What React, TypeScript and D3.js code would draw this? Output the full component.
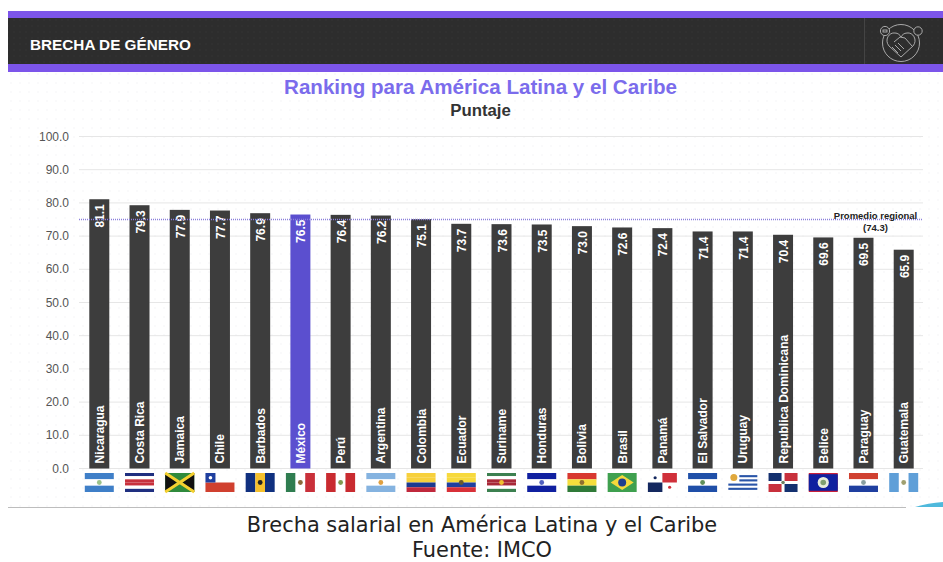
import React from "react";
import * as d3 from "d3";

const countries = ["Nicaragua", "Costa Rica", "Jamaica", "Chile", "Barbados", "México", "Perú", "Argentina", "Colombia", "Ecuador", "Suriname", "Honduras", "Bolivia", "Brasil", "Panamá", "El Salvador", "Uruguay", "Republica Dominicana", "Belice", "Paraguay", "Guatemala"];
const scores = [81.1, 79.3, 77.9, 77.7, 76.9, 76.5, 76.4, 76.2, 75.1, 73.7, 73.6, 73.5, 73.0, 72.6, 72.4, 71.4, 71.4, 70.4, 69.6, 69.5, 65.9];
const yTicks = [0, 10, 20, 30, 40, 50, 60, 70, 80, 90, 100];
const highlighted = "México";
const regionalLevel = 75;
const regionalLabel = ["Promedio regional", "(74.3)"];

const width = 943;
const height = 562;
const purple = "#7c55ea";

// flat stripes for each flag, [direction, colours, emblem colour]
const flagStripes: Record<string, [string, string[], string?]> = {
  Nicaragua: ["h", ["#3f7fc8", "#ffffff", "#3f7fc8"], "#9cc28a"],
  "Costa Rica": ["h", ["#1f2f80", "#ffffff", "#c8303c", "#c8303c", "#ffffff", "#1f2f80"]],
  Barbados: ["v", ["#10307f", "#f5c02c", "#10307f"], "#222222"],
  México: ["v", ["#2f7d50", "#ffffff", "#c9303a"], "#8a6a3a"],
  Perú: ["v", ["#c92b30", "#ffffff", "#c92b30"], "#7f9a50"],
  Argentina: ["h", ["#85b3e0", "#ffffff", "#85b3e0"], "#e0a040"],
  Colombia: ["h", ["#f7d03c", "#f7d03c", "#1c3a90", "#c0283c"]],
  Ecuador: ["h", ["#f7d93c", "#f7d93c", "#2040a0", "#d83038"], "#6a5a30"],
  Suriname: ["h", ["#3c8050", "#ffffff", "#a82838", "#a82838", "#ffffff", "#3c8050"], "#f0c030"],
  Honduras: ["h", ["#1020a0", "#ffffff", "#1020a0"], "#5060c0"],
  Bolivia: ["h", ["#d83830", "#f5de3c", "#2f7a38"], "#907030"],
  "El Salvador": ["h", ["#1f4fa8", "#ffffff", "#1f4fa8"], "#60905a"],
  Paraguay: ["h", ["#d04030", "#ffffff", "#1f3fa0"], "#8aa0a0"],
  Guatemala: ["v", ["#5f9fd8", "#ffffff", "#5f9fd8"], "#a0a070"],
};

const Flag = ({ name }: { name: string }) => {
  const w = 29;
  const h = 19;
  const spec = flagStripes[name];
  if (spec) {
    const [dir, colours, emblem] = spec;
    const band = d3.scaleBand<number>().domain(d3.range(colours.length)).range([0, dir === "h" ? h : w]);
    return (
      <g>
        {colours.map((c, i) =>
          dir === "h" ? (
            <rect key={i} y={band(i)} width={w} height={band.bandwidth()} fill={c} />
          ) : (
            <rect key={i} x={band(i)} width={band.bandwidth()} height={h} fill={c} />
          )
        )}
        {emblem && <circle cx={w / 2} cy={h / 2} r={2.4} fill={emblem} />}
      </g>
    );
  }
  if (name === "Jamaica") {
    return (
      <g>
        <rect width={w} height={h} fill="#2f8a3c" />
        <path d={`M0 0L${w / 2 - 3} ${h / 2}L0 ${h}Z M${w} 0L${w / 2 + 3} ${h / 2}L${w} ${h}Z`} fill="#111" />
        <path d={`M0 0L${w} ${h}M${w} 0L0 ${h}`} stroke="#f5d030" strokeWidth={3} />
      </g>
    );
  }
  if (name === "Chile") {
    return (
      <g>
        <rect width={w} height={h / 2} fill="#fff" />
        <rect y={h / 2} width={w} height={h / 2} fill="#d0402f" />
        <rect width={10} height={h / 2} fill="#1f3f9f" />
        <circle cx={5} cy={h / 4} r={1.8} fill="#fff" />
      </g>
    );
  }
  if (name === "Brasil") {
    return (
      <g>
        <rect width={w} height={h} fill="#3fa04f" />
        <path d={`M${w / 2} 2L${w - 3} ${h / 2}L${w / 2} ${h - 2}L3 ${h / 2}Z`} fill="#f5d93c" />
        <circle cx={w / 2} cy={h / 2} r={4} fill="#1f3f8f" />
      </g>
    );
  }
  if (name === "Panamá") {
    return (
      <g>
        <rect width={w} height={h} fill="#fff" />
        <rect x={w / 2} y={0} width={w / 2} height={h / 2} fill="#d0303a" />
        <rect x={0} y={h / 2} width={w / 2} height={h / 2} fill="#14285f" />
        <circle cx={w / 4} cy={h / 4} r={1.6} fill="#14285f" />
        <circle cx={(3 * w) / 4} cy={(3 * h) / 4} r={1.6} fill="#d0303a" />
      </g>
    );
  }
  if (name === "Uruguay") {
    const rows = d3.range(9);
    return (
      <g>
        <rect width={w} height={h} fill="#fff" />
        {rows.filter((i) => i % 2 === 1).map((i) => (
          <rect key={i} x={i < 5 ? 11 : 0} y={(i * h) / 9} width={i < 5 ? w - 11 : w} height={h / 9} fill="#2a55a8" />
        ))}
        <circle cx={5.5} cy={4.5} r={3.5} fill="#e0a83c" />
      </g>
    );
  }
  if (name === "Republica Dominicana") {
    return (
      <g>
        <rect width={w} height={h} fill="#fff" />
        <rect width={w / 2 - 1.5} height={h / 2 - 1.5} fill="#14306f" />
        <rect x={w / 2 + 1.5} width={w / 2 - 1.5} height={h / 2 - 1.5} fill="#c8303c" />
        <rect y={h / 2 + 1.5} width={w / 2 - 1.5} height={h / 2 - 1.5} fill="#c8303c" />
        <rect x={w / 2 + 1.5} y={h / 2 + 1.5} width={w / 2 - 1.5} height={h / 2 - 1.5} fill="#14306f" />
        <circle cx={w / 2} cy={h / 2} r={1.8} fill="#708060" />
      </g>
    );
  }
  // Belice
  return (
    <g>
      <rect width={w} height={h} fill="#c8203c" />
      <rect y={1.2} width={w} height={h - 2.4} fill="#10209f" />
      <circle cx={w / 2} cy={h / 2} r={5.6} fill="#e8ecdc" />
      <circle cx={w / 2} cy={h / 2} r={2.8} fill="#7f9f70" />
    </g>
  );
};

const HandshakeIcon = () => (
  <g transform="translate(901,43)" fill="none" stroke="#b5b5b5" strokeWidth={0.9}>
    <circle r={18.5} />
    <circle cx={-16} cy={-12} r={4.6} fill="#2d2d2d" />
    <circle cx={17} cy={-12} r={4.2} fill="#2d2d2d" />
    <rect x={-18} y={-13} width={4} height={2} />
    <path d="M0 14L-12 3C-17 -3 -12 -11 -6 -10C-3 -10 -1 -8 0 -6C1 -8 3 -10 6 -10C12 -11 17 -3 12 3Z" />
    <path d="M-7 -1L-1 -6L4 -5L11 3M-9 4L-3 10M-6 2L0 8M-3 0L3 6" />
  </g>
);

export default function App() {
  const x = d3.scaleBand<string>().domain(countries).range([89.3, 913.7]).paddingInner(0.503);
  const y = d3.scaleLinear().domain([0, 100]).range([468.5, 136.5]);
  const barW = x.bandwidth();
  const arial = "Liberation Sans, Arial, sans-serif";

  return (
    <svg width={width} height={height} style={{ position: "absolute", left: 0, top: 0 }} fontFamily={arial}>
      <defs>
        <pattern id="dots" width={9} height={9} patternUnits="userSpaceOnUse">
          <circle cx={2} cy={2} r={1} fill="#f8f8fa" />
        </pattern>
        <pattern id="headDots" width={6} height={6} patternUnits="userSpaceOnUse">
          <circle cx={2} cy={2} r={0.8} fill="#333" />
        </pattern>
      </defs>
      <rect width={width} height={height} fill="#fff" />
      <rect x={8} y={72} width={935} height={435} fill="url(#dots)" />

      {/* header band */}
      <rect x={8} y={11} width={935} height={61} fill={purple} />
      <rect x={8} y={18} width={935} height={46} fill="#2d2d2d" />
      <rect x={8} y={18} width={935} height={46} fill="url(#headDots)" />
      <line x1={864.5} x2={864.5} y1={18} y2={64} stroke="#444" />
      <text x={30} y={50} fill="#fff" fontSize={15.3} fontWeight="bold">BRECHA DE GÉNERO</text>
      <HandshakeIcon />

      <text x={480.5} y={94} textAnchor="middle" fill="#7b6cec" fontSize={20.6} fontWeight="bold">Ranking para América Latina y el Caribe</text>
      <text x={480.5} y={116} textAnchor="middle" fill="#333" fontSize={16.8} fontWeight="bold">Puntaje</text>

      {/* y axis and grid */}
      {yTicks.map((t) => (
        <g key={t}>
          <line x1={79} x2={923} y1={y(t)} y2={y(t)} stroke="#e6e6e6" />
          <text x={69} y={y(t) + 4} textAnchor="end" fill="#555" fontSize={12}>{d3.format(".1f")(t)}</text>
        </g>
      ))}

      {/* bars */}
      {countries.map((c, i) => {
        const left = x(c) as number;
        const mid = left + barW / 2;
        return (
          <g key={c}>
            <rect x={left} y={y(scores[i])} width={barW} height={y(0) - y(scores[i])} fill={c === highlighted ? "#5b4fcf" : "#3d3d3d"} />
            <text transform={`translate(${mid + 5},${y(scores[i]) + 5}) rotate(-90)`} textAnchor="end" fill="#fff" fontSize={12} fontWeight="bold">{d3.format(".1f")(scores[i])}</text>
            <text transform={`translate(${mid + 4.5},${y(0) - 5}) rotate(-90)`} fill="#fff" fontSize={12} fontWeight="bold">{c}</text>
            <g transform={`translate(${mid - 14.5},473)`}>
              <Flag name={c} />
            </g>
          </g>
        );
      })}

      {/* regional average */}
      <line x1={79} x2={923} y1={y(regionalLevel)} y2={y(regionalLevel)} stroke="#8b7fdc" strokeWidth={1.3} strokeDasharray="1 1" />
      <text x={875.5} y={219} textAnchor="middle" fill="#222" fontSize={9.5} fontWeight="bold">{regionalLabel[0]}</text>
      <text x={875.5} y={230.5} textAnchor="middle" fill="#222" fontSize={9.5} fontWeight="bold">{regionalLabel[1]}</text>

      {/* footer */}
      <rect x={0} y={507} width={width} height={55} fill="#fff" />
      <line x1={8} x2={906} y1={507.5} y2={507.5} stroke="#bdbdbd" strokeWidth={1.2} />
      <path d="M915 507Q928 503 943 502L943 507Z" fill="#4fb9dc" />
      <g fontFamily="DejaVu Sans, sans-serif" fontSize={20.9} fill="#222" textAnchor="middle">
        <text x={482} y={532}>Brecha salarial en América Latina y el Caribe</text>
        <text x={482} y={556.8}>Fuente: IMCO</text>
      </g>
    </svg>
  );
}
